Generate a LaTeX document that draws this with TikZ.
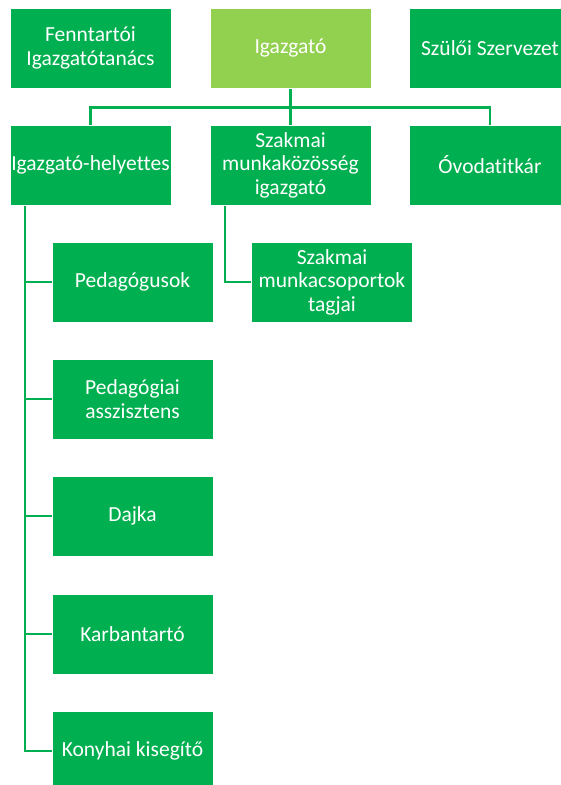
\documentclass[tikz,border=0pt]{standalone}
\usepackage{fontspec}
\setmainfont[Ligatures=NoCommon]{Carlito}
\usepackage{tikz}
\pgfdeclarelayer{edgelayer}
\pgfdeclarelayer{nodelayer}
\pgfsetlayers{edgelayer,nodelayer,main}
\definecolor{darkgreen}{HTML}{00B050}
\definecolor{lightgreen}{HTML}{92D050}
\tikzstyle{unit}=[rectangle, fill=darkgreen, draw=white, line width=0.6pt, text=white, minimum width=161pt, minimum height=80pt, align=center, inner sep=0pt, font=\fontsize{21.5}{23.5}\selectfont]
\tikzstyle{head}=[unit, fill=lightgreen]
\tikzstyle{link}=[draw=darkgreen, line width=2.4pt]

\begin{document}
\begin{tikzpicture}[x=1pt, y=-1pt]
				\useasboundingbox (0,0) rectangle (561,785);
				\clip (0,0) rectangle (561,785);
				\begin{pgfonlayer}{nodelayer}
					\node [style=unit] (fenn) at (90.5, 48) {Fenntartói\\Igazgatótanács};
					\node [style=head] (igaz) at (290.5, 48) {Igazgató};
					\node [style=unit] (szul) at (490, 48) {Szülői Szervezet};
					\node [style=unit] (helyettes) at (90.5, 165) {Igazgató-helyettes};
					\node [style=unit] (szakmai) at (290.5, 165) {Szakmai\\munkaközösség\\igazgató};
					\node [style=unit] (ovoda) at (490, 165) {Óvodatitkár};
					\node [style=unit] (tagjai) at (332, 282) {Szakmai\\munkacsoportok\\tagjai};
					\node [style=unit] (ped) at (132.5, 282) {Pedagógusok};
					\node [style=unit] (asszisztens) at (132.5, 399) {Pedagógiai\\asszisztens};
					\node [style=unit] (dajka) at (132.5, 516) {Dajka};
					\node [style=unit] (karban) at (132.5, 634) {Karbantartó};
					\node [style=unit] (konyha) at (132.5, 751) {Konyhai kisegítő};
				\end{pgfonlayer}
				\begin{pgfonlayer}{edgelayer}
					\draw [style=link] (igaz.south) -- ++(0,19) coordinate (bus);
					\draw [style=link] (helyettes.north) |- (bus) -| (ovoda.north);
					\draw [style=link] (bus) -- (szakmai.north);
					\coordinate (spine) at ([xshift=15pt]helyettes.south west);
					\foreach \n in {ped, asszisztens, dajka, karban, konyha}
						\draw [style=link] (spine) |- (\n.west);
					\draw [style=link] ([xshift=15pt]szakmai.south west) |- (tagjai.west);
				\end{pgfonlayer}
			\end{tikzpicture}
\end{document}
